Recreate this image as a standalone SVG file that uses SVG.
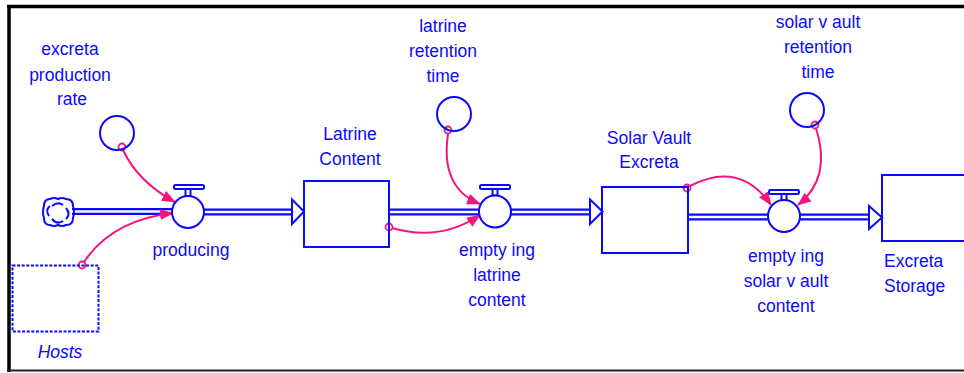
<svg xmlns="http://www.w3.org/2000/svg" width="964" height="373" viewBox="0 0 964 373">
<style>
text{font-family:"Liberation Sans",Arial,sans-serif;font-size:17.5px;fill:#0A0AFF;text-anchor:middle}
.b{fill:none;stroke:#0A0AFF;stroke-width:2}
.bw{fill:#fff;stroke:#0A0AFF;stroke-width:2}
.pipeO{fill:none;stroke:#0A0AFF;stroke-width:7}
.pipeI{fill:none;stroke:#fff;stroke-width:2.6}
.lnk{fill:none;stroke:#F5147E;stroke-width:2}
.dot{fill:none;stroke:#F5147E;stroke-width:1.8}
</style>
<defs>
<marker id="ah" viewBox="0 0 14 11" refX="13" refY="5.5" markerWidth="14" markerHeight="11" markerUnits="userSpaceOnUse" orient="auto">
<path d="M0,0 L14,5.5 L0,11 Z" fill="#F5147E"/>
</marker>
</defs>
<rect x="0" y="0" width="964" height="373" fill="#fff"/>
<g id="frame">
<line x1="7" y1="6.5" x2="964" y2="6.5" stroke="#000" stroke-width="3.5"/>
<line x1="9" y1="5" x2="9" y2="372" stroke="#000" stroke-width="3.5"/>
<line x1="7" y1="370.5" x2="964" y2="370.5" stroke="#222" stroke-width="2"/>
</g>
<g id="connectors">
<path class="pipeO" d="M72,211.5 H173"/><path class="pipeI" d="M72,211.5 H173"/>
<path class="pipeO" d="M203,212 H292"/><path class="pipeI" d="M203,212 H293"/>
<polygon class="bw" points="292,199.5 304,211.5 292,224"/>
<path class="pipeO" d="M389,212 H480"/><path class="pipeI" d="M389,212 H480"/>
<path class="pipeO" d="M510,212 H591"/><path class="pipeI" d="M510,212 H592"/>
<polygon class="bw" points="590,199.5 602.5,211.5 590,224"/>
<path class="pipeO" d="M688,217 H769"/><path class="pipeI" d="M688,217 H769"/>
<path class="pipeO" d="M799,217 H870"/><path class="pipeI" d="M799,217 H871"/>
<polygon class="bw" points="869,206 882,217.5 869,229"/>
<path class="lnk" d="M123,150 Q138,182 175,202" marker-end="url(#ah)"/>
<circle class="dot" cx="122" cy="147" r="3.5"/>
<path class="lnk" d="M84,262 Q112,220 173,213" marker-end="url(#ah)"/>
<circle class="dot" cx="82" cy="265" r="3.5"/>
<path class="lnk" d="M448,134 Q440,188 480,204" marker-end="url(#ah)"/>
<circle class="dot" cx="448" cy="130" r="3.5"/>
<path class="lnk" d="M392,228 Q440,242 480,215" marker-end="url(#ah)"/>
<circle class="dot" cx="389" cy="227" r="3.5"/>
<path class="lnk" d="M690,186 Q740,160 771,205" marker-end="url(#ah)"/>
<circle class="dot" cx="687" cy="188" r="3.5"/>
<path class="lnk" d="M816,128 Q832,178 798,205" marker-end="url(#ah)"/>
<circle class="dot" cx="815" cy="125" r="3.5"/>
</g>
<g id="cloud">
<path class="b" d="M50,199 Q54,197 58,199 Q62,197 66,199 Q73,199 73,206 Q75,212 73,218 Q73,225 66,225 Q62,227 58,225 Q54,227 50,225 Q44,225 44,218 Q42,212 44,206 Q44,199 50,199 Z" stroke-width="2.2"/>
<path class="b" d="M52,206 Q58,201 63,205 M66,208 Q71,214 66,219 M63,221 Q57,225 52,219 M49,216 Q45,210 50,206" stroke-width="1.8"/>
</g>
<g id="producing">
<rect class="bw" x="174" y="185" width="30" height="4" rx="1.5"/>
<rect class="bw" x="185.5" y="189" width="5" height="7"/>
<circle class="bw" cx="188" cy="212" r="16"/>
<text x="191" y="256">producing</text>
</g>
<g id="emptying-latrine-content">
<rect class="bw" x="480" y="185" width="30" height="4" rx="1.5"/>
<rect class="bw" x="492.5" y="189" width="5" height="6.5"/>
<circle class="bw" cx="495" cy="211.5" r="16"/>
<text x="497" y="256">empty ing</text>
<text x="497" y="281">latrine</text>
<text x="497" y="306">content</text>
</g>
<g id="emptying-solar-vault-content">
<rect class="bw" x="769" y="190" width="30" height="4" rx="1.5"/>
<rect class="bw" x="781.5" y="194" width="5" height="6"/>
<circle class="bw" cx="784" cy="216" r="16"/>
<text x="786" y="262">empty ing</text>
<text x="786" y="287">solar v ault</text>
<text x="786" y="312">content</text>
</g>
<g id="latrine-content">
<rect class="b" x="304" y="181" width="85" height="66"/>
<text x="350" y="140">Latrine</text>
<text x="350" y="165">Content</text>
</g>
<g id="solar-vault-excreta">
<rect class="b" x="602" y="187" width="86" height="66"/>
<text x="649" y="144">Solar Vault</text>
<text x="649" y="168">Excreta</text>
</g>
<g id="excreta-storage">
<rect class="b" x="882" y="175" width="95" height="66"/>
<text x="884" y="267" style="text-anchor:start">Excreta</text>
<text x="884" y="292" style="text-anchor:start">Storage</text>
</g>
<g id="hosts">
<rect class="b" x="12.5" y="265.5" width="86" height="66" stroke-dasharray="3,1.6"/>
<text x="60" y="358" style="font-style:italic">Hosts</text>
</g>
<g id="excreta-production-rate">
<circle class="b" cx="117" cy="133" r="17"/>
<text x="70" y="55">excreta</text>
<text x="70" y="81">production</text>
<text x="72" y="105">rate</text>
</g>
<g id="latrine-retention-time">
<circle class="b" cx="454" cy="114" r="17"/>
<text x="443" y="32">latrine</text>
<text x="443" y="57">retention</text>
<text x="443" y="82">time</text>
</g>
<g id="solar-vault-retention-time">
<circle class="b" cx="807" cy="110" r="17"/>
<text x="818" y="28">solar v ault</text>
<text x="818" y="53">retention</text>
<text x="818" y="78">time</text>
</g>
</svg>
